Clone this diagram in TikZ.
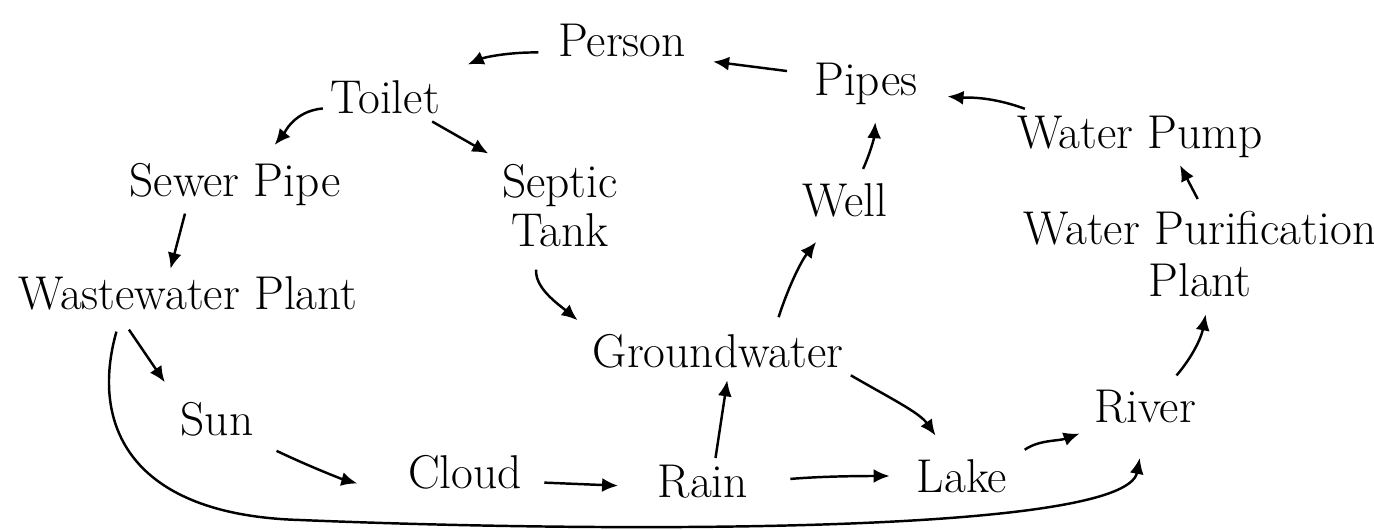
\documentclass[tikz,border=0pt]{standalone}
\usepackage{tikz}
\usetikzlibrary{positioning, arrows.meta}

\begin{document}
\begin{tikzpicture}[
    >=Latex, % filled arrow tips
    % Styles
    word/.style={ % One stage of the water cycle
        inner sep=4pt,
        align=center,
        font=\fontsize{27}{30}\selectfont
    },
    arrow/.style={
        -{Latex[length=3.2mm, width=2.8mm]},
        line width=1.4pt
    }
]
    \useasboundingbox (0,0) rectangle (27.48,-10.6);

    % Top: house
    \node at (12.44, -0.8) [word] (person) {Person};
    \node at (7.7, -1.95) [word] (toilet) {Toilet};
    \node at (4.7, -3.7) [word] (sewer) {Sewer Pipe};
    \node at (11.2, -4.12) [word] (septic) {Septic\\[-2pt] Tank};
    \node at (3.76, -5.86) [word] (wwplant) {Wastewater Plant};

    % Supply side
    \node at (17.32, -1.68) [word] (pipes) {Pipes};
    \node at (16.9, -4.0) [word] (well) {Well};
    \node at (22.8, -2.74) [word] (pump) {Water Pump};
    \node at (24.0, -5.08) [word] (purify) {Water Purification\\ Plant};
    \node at (14.36, -7.02) [word] (ground) {Groundwater};

    % Bottom: cycle
    \node at (4.34, -8.38) [word] (sun) {Sun};
    \node at (9.3, -9.44) [word] (cloud) {Cloud};
    \node at (14.06, -9.64) [word] (rain) {Rain};
    \node at (19.24, -9.52) [word] (lake) {Lake};
    \node at (22.9, -8.14) [word] (river) {River};

    % House -> waste
    \draw [arrow, shorten <=0.4cm, shorten >=0.4cm] (pipes.170) -- (person.-15);
    \draw [arrow, shorten <=0.25cm, shorten >=0.45cm] (person.190) to[bend right=12] (toilet.north east);
    \draw [arrow, shorten >=0.3cm] (toilet.190) to[out=185, in=50] ([xshift=0.6cm]sewer.north);
    \draw [arrow, shorten >=0.15cm] ([xshift=-0.3cm]toilet.south east) -- (septic.north west);
    \draw [arrow] ([xshift=-1cm]sewer.south) -- ([xshift=-0.35cm]wwplant.north);
    \draw [arrow, shorten <=0.3cm, shorten >=0.2cm] ([xshift=-0.45cm]septic.south) to[out=-95, in=140] (ground.north west);

    % Water supply
    \draw [arrow, shorten <=0.2cm, shorten >=0.45cm] ([xshift=1.15cm]ground.north) to[bend left=10] ([xshift=-0.3cm]well.south);
    \draw [arrow, shorten <=0.15cm, shorten >=0.2cm] ([xshift=0.3cm]well.north) to[bend right=10] ([xshift=0.2cm]pipes.south);
    \draw [arrow, shorten >=0.45cm] ([xshift=0.3cm]pump.north west) to[out=160, in=-5] (pipes.-10);
    \draw [arrow, shorten <=0.1cm] (purify.north) -- ([xshift=0.8cm]pump.south);
    \draw [arrow, shorten <=0.2cm, shorten >=0.2cm] ([xshift=0.5cm]river.north) to[bend right=15] ([xshift=0.15cm]purify.south);

    % Cycle
    \draw [arrow, shorten <=0.3cm, shorten >=0.3cm] ([xshift=-1.35cm]wwplant.south) -- (sun.north west);
    \draw [arrow, shorten <=0.35cm, shorten >=0.9cm] (sun.south east) to[bend right=5] (cloud.200);
    \draw [arrow, shorten <=0.3cm, shorten >=0.65cm] ([yshift=-0.2cm]cloud.east) -- ([yshift=-0.1cm]rain.west);
    \draw [arrow, shorten <=0.7cm, shorten >=0.4cm] (rain.east) to[out=5, in=180] (lake.west);
    \draw [arrow, shorten >=0.1cm] ([xshift=0.25cm]rain.north) -- ([xshift=0.2cm]ground.south);
    \draw [arrow, shorten >=0.4cm] (ground.south east) to[out=-30, in=125] ([xshift=-0.3cm]lake.north);
    \draw [arrow, shorten <=0.25cm, shorten >=0.15cm] (lake.20) to[out=35, in=200] (river.south west);
    \draw [arrow, shorten <=0.3cm, shorten >=0.55cm] ([xshift=-1.35cm]wwplant.south)
        .. controls (1.8, -8.5) and (2.6, -10.3) .. (6, -10.4)
        .. controls (12, -10.65) and (22.5, -10.7) .. (river.south);
\end{tikzpicture}
\end{document}
